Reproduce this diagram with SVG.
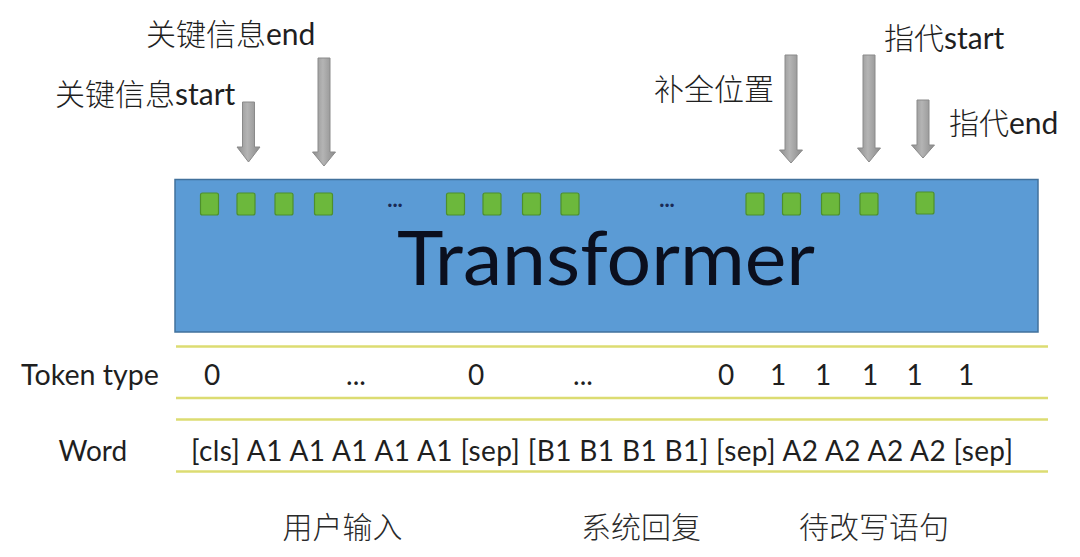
<svg xmlns="http://www.w3.org/2000/svg" width="1080" height="557" viewBox="0 0 1080 557">
<defs>
<linearGradient id="arrowGrad" x1="0" y1="0" x2="1" y2="0">
<stop offset="0" stop-color="#8e8e8e"/>
<stop offset="0.45" stop-color="#b4b4b4"/>
<stop offset="1" stop-color="#8a8a8a"/>
</linearGradient>
</defs>
<style>
.lbl{font-family:"Lato","Noto Sans CJK SC",sans-serif;fill:#1f1f1f}
.top{font-size:30px}
.row{font-size:28px}
.zh{font-family:"Noto Sans CJK SC",sans-serif;font-weight:300}
.cjk{font-family:"Noto Sans CJK SC",sans-serif;font-size:30px;fill:#2a2a2a;font-weight:300}
.sq{fill:#6cb83c;stroke:#4d8f2c;stroke-width:1.2}
.arr{fill:url(#arrowGrad);stroke:#8a8a8a;stroke-width:1}
.yl{stroke:#dcdc72;stroke-width:2.5;fill:none}
.dots{font-family:"Lato",sans-serif;font-size:22px;font-weight:bold;fill:#1a2a55}
</style>
<rect width="1080" height="557" fill="#ffffff"/>

<g id="transformer">
<rect x="175" y="179.5" width="863" height="152.5" fill="#5b9bd5" stroke="#41719c" stroke-width="1.5"/>
<text class="lbl" x="397" y="285" font-size="76" textLength="418" lengthAdjust="spacingAndGlyphs" style="fill:#0b0f1e">Transformer</text>
</g>

<g id="tokens">
<rect class="sq" x="200.5" y="193" width="18" height="22" rx="2"/>
<rect class="sq" x="237" y="193" width="18" height="22" rx="2"/>
<rect class="sq" x="275" y="193" width="18" height="22" rx="2"/>
<rect class="sq" x="314.5" y="193" width="18" height="22" rx="2"/>
<text class="dots" x="395" y="207" text-anchor="middle">...</text>
<rect class="sq" x="446.5" y="193" width="18" height="22" rx="2"/>
<rect class="sq" x="483" y="193" width="18" height="22" rx="2"/>
<rect class="sq" x="522.5" y="193" width="18" height="22" rx="2"/>
<rect class="sq" x="561" y="193" width="18" height="22" rx="2"/>
<text class="dots" x="667" y="207" text-anchor="middle">...</text>
<rect class="sq" x="746" y="193" width="18" height="22" rx="2"/>
<rect class="sq" x="782.5" y="193" width="18" height="22" rx="2"/>
<rect class="sq" x="821.5" y="193" width="18" height="22" rx="2"/>
<rect class="sq" x="860" y="193" width="18" height="22" rx="2"/>
<rect class="sq" x="916" y="192" width="18" height="22" rx="2"/>
</g>

<g id="label-key-start"><text class="lbl top" x="55" y="105"><tspan class="zh">关键信息</tspan>start</text></g>
<g id="label-key-end"><text class="lbl top" x="146" y="45"><tspan class="zh">关键信息</tspan>end</text></g>
<g id="label-fill-pos"><text class="lbl top" x="654" y="100"><tspan class="zh">补全位置</tspan></text></g>
<g id="label-ref-start"><text class="lbl top" x="884" y="49"><tspan class="zh">指代</tspan>start</text></g>
<g id="label-ref-end"><text class="lbl top" x="949" y="134"><tspan class="zh">指代</tspan>end</text></g>

<g id="connectors">
<path class="arr" d="M242.5,102 H254.5 V147 H260 L248.5,162 L237,147 H242.5 Z"/>
<path class="arr" d="M318,58 H330 V152 H335.5 L324,166 L312.5,152 H318 Z"/>
<path class="arr" d="M785,55 H797 V150 H802.5 L791,163 L779.5,150 H785 Z"/>
<path class="arr" d="M863,55 H875 V148 H880.5 L869,162 L857.5,148 H863 Z"/>
<path class="arr" d="M917,100 H929 V145 H934.5 L923,158 L911.5,145 H917 Z"/>
</g>

<g id="table-lines">
<line class="yl" x1="176" y1="346.5" x2="1048" y2="346.5"/>
<line class="yl" x1="176" y1="398" x2="1048" y2="398"/>
<line class="yl" x1="176" y1="419.5" x2="1048" y2="419.5"/>
<line class="yl" x1="176" y1="471.5" x2="1048" y2="471.5"/>
</g>

<g id="token-type-row">
<text class="lbl row" x="21" y="385" textLength="138" lengthAdjust="spacingAndGlyphs">Token type</text>
<g text-anchor="middle">
<text class="lbl row" x="212" y="385">0</text>
<text class="lbl row" x="356" y="385">...</text>
<text class="lbl row" x="476" y="385">0</text>
<text class="lbl row" x="583" y="385">...</text>
<text class="lbl row" x="726" y="385">0</text>
<text class="lbl row" x="778" y="385">1</text>
<text class="lbl row" x="823" y="385">1</text>
<text class="lbl row" x="870" y="385">1</text>
<text class="lbl row" x="914.5" y="385">1</text>
<text class="lbl row" x="966" y="385">1</text>
</g>
</g>

<g id="word-row">
<text class="lbl row" x="58.5" y="461">Word</text>
<text class="lbl row" x="191" y="461" textLength="822" lengthAdjust="spacing">[cls] A1 A1 A1 A1 A1 [sep] [B1 B1 B1 B1] [sep] A2 A2 A2 A2 [sep]</text>
</g>

<g id="segment-labels">
<text class="cjk" x="342.6" y="538" text-anchor="middle">用户输入</text>
<text class="cjk" x="641" y="538" text-anchor="middle">系统回复</text>
<text class="cjk" x="874" y="538" text-anchor="middle">待改写语句</text>
</g>
</svg>
